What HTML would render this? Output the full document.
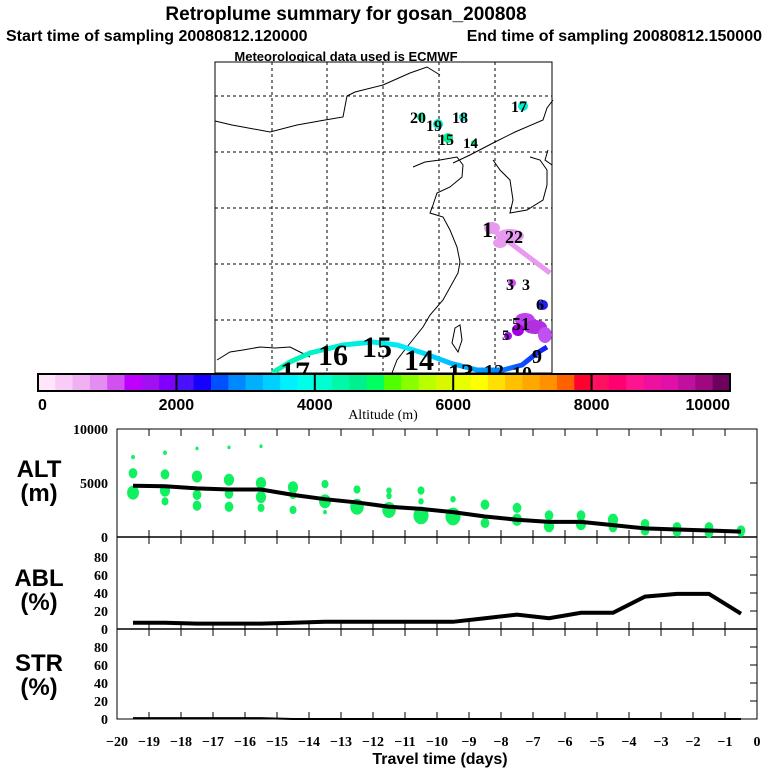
<!DOCTYPE html>
<html><head><meta charset="utf-8"><style>
html,body{margin:0;padding:0;background:#fff;}
svg{display:block;}
.t{font-family:"Liberation Sans",sans-serif;font-weight:bold;fill:#000;}
.s{font-family:"Liberation Serif",serif;fill:#000;}
.sb{font-family:"Liberation Serif",serif;font-weight:bold;fill:#000;}
</style></head><body>
<svg id="fig" width="768" height="768" viewBox="0 0 768 768" xmlns="http://www.w3.org/2000/svg">
<rect width="768" height="768" fill="#fff"/>
<text class="t" x="346" y="20" font-size="19" text-anchor="middle">Retroplume summary for gosan_200808</text>
<text class="t" x="6" y="41" font-size="16">Start time of sampling 20080812.120000</text>
<text class="t" x="762" y="41" font-size="16" text-anchor="end">End time of sampling 20080812.150000</text>
<text class="t" x="346" y="61" font-size="13" text-anchor="middle">Meteorological data used is ECMWF</text>

<g id="map">
<rect x="215" y="62" width="337" height="311" fill="#fff" stroke="#000"/>
<g stroke="#000" stroke-dasharray="3,3" stroke-width="1">
<line x1="272" y1="62" x2="272" y2="373"/><line x1="327" y1="62" x2="327" y2="373"/><line x1="383" y1="62" x2="383" y2="373"/><line x1="439" y1="62" x2="439" y2="373"/><line x1="495" y1="62" x2="495" y2="373"/>
<line x1="215" y1="96" x2="552" y2="96"/><line x1="215" y1="152" x2="552" y2="152"/><line x1="215" y1="208" x2="552" y2="208"/><line x1="215" y1="264" x2="552" y2="264"/><line x1="215" y1="320" x2="552" y2="320"/>
</g>
<g fill="none" stroke="#000" stroke-width="1">
<path d="M215,121 L232,125 L270,132 L297,125 L325,120 L343,117 L347,96 L355,92 L383,85 L410,73 L427,67 L440,75"/>
<path d="M413,167 L425,162 L440,160 L457,157 L463,165 L462,177 L450,187 L437,193 L433,205 L430,213 L443,217 L450,230 L457,247 L460,262 L458,273 L443,300 L430,315 L423,327 L407,347 L397,360 L392,373"/>
<path d="M453,163 L470,155 L493,143 L515,132 L543,120 L547,108 L553,100"/>
<path d="M493,160 L500,170 L510,180 L513,200 L510,213 L527,210 L543,200 L547,185 L547,170 L540,160 L530,157"/>
<path d="M455,328 L460,325 L462,340 L458,352 L452,343 Z"/>
<path d="M217,360 L230,352 L243,350 L260,347 L275,348 L290,347 L300,352 L310,357"/>
<path d="M548,150 L545,160 L552,165"/>
</g>
<defs><linearGradient id="trg" x1="272" y1="0" x2="547" y2="0" gradientUnits="userSpaceOnUse">
<stop offset="0" stop-color="#00f8b0"/><stop offset="0.5" stop-color="#00e8ff"/><stop offset="0.8" stop-color="#0090ff"/><stop offset="1" stop-color="#1818ff"/></linearGradient></defs>
<path d="M272,373 L290,362 L310,353 L343,345 L373,342 L397,345 L423,353 L450,363 L477,370 L503,370 L522,365 L537,353 L547,347" fill="none" stroke="url(#trg)" stroke-width="5"/>
<path d="M493,230 L550,273" stroke="#e89af0" stroke-width="5"/>
<g fill="#e89af0">
<ellipse cx="492" cy="228" rx="8" ry="6"/><ellipse cx="510" cy="236" rx="14" ry="7"/><ellipse cx="500" cy="243" rx="7" ry="5"/>
</g>
<g>
<circle cx="512" cy="283" r="4" fill="#d050f0"/><circle cx="543" cy="305" r="5" fill="#2020f0"/>
<ellipse cx="525" cy="320" rx="10" ry="7" fill="#c040f0"/><ellipse cx="535" cy="327" rx="12" ry="7" fill="#b030e0"/><circle cx="518" cy="330" r="6" fill="#a000e0"/><circle cx="508" cy="336" r="4" fill="#a010f0"/><ellipse cx="545" cy="335" rx="7" ry="8" fill="#c050f0"/>
</g>
<g>
<circle cx="421" cy="117" r="4" fill="#00f0a0"/><circle cx="438" cy="124" r="5" fill="#00f0c8"/><circle cx="463" cy="117" r="4" fill="#00f0d8"/><circle cx="523" cy="106" r="5" fill="#00f0d0"/><circle cx="448" cy="138" r="5" fill="#00f090"/><circle cx="474" cy="143" r="3" fill="#00e860"/>
</g>
<g class="sb">
<text x="410" y="123" font-size="16">20</text><text x="426" y="131" font-size="16">19</text><text x="452" y="123" font-size="16">18</text><text x="511" y="112" font-size="16">17</text><text x="438" y="145" font-size="16">15</text><text x="463" y="148" font-size="15">14</text>
<text x="482" y="237" font-size="22">1</text><text x="505" y="243" font-size="18">22</text>
<text x="506" y="290" font-size="16">3</text><text x="522" y="290" font-size="16">3</text><text x="536" y="310" font-size="16">6</text><text x="502" y="340" font-size="15">5</text><text x="512" y="330" font-size="18">51</text>
<text x="280" y="382" font-size="30">17</text><text x="318" y="365" font-size="30">16</text><text x="362" y="357" font-size="30">15</text><text x="404" y="370" font-size="30">14</text><text x="448" y="382" font-size="26">13</text><text x="484" y="378" font-size="20">12</text><text x="512" y="380" font-size="20">10</text><text x="532" y="363" font-size="20">9</text>
</g>
</g>

<g id="colorbar"></g>
<text class="s" x="383" y="419" font-size="14" text-anchor="middle">Altitude (m)</text>

<g id="panels"></g>
</svg>
<script>
const cbColors = ["#ffe6f8","#f8ccf6","#f0b0f4","#e48cf0","#d050f0","#c000ff","#a010f0","#8000ff",
"#4a10ff","#1800ff","#0050ff","#0088ff","#00b0ff","#00d0ff","#00f0ff","#00ffe8",
"#00ffd0","#00f8a8","#00f090","#00ff60","#50ff00","#88ff00","#b8ff00","#d8f800",
"#e8ff00","#ffff00","#ffe000","#ffc000","#ffa800","#ff9000","#ff6000","#ff0030",
"#ff1060","#ff0070","#ff1490","#f010a0","#e010a8","#c010a0","#a00880","#700060"];
const cbTicks = [0,2000,4000,6000,8000,10000];

const days = [-19.5,-18.5,-17.5,-16.5,-15.5,-14.5,-13.5,-12.5,-11.5,-10.5,-9.5,-8.5,-7.5,-6.5,-5.5,-4.5,-3.5,-2.5,-1.5,-0.5];
const altMean = [4750,4700,4500,4400,4400,3900,3500,3200,2800,2600,2300,1900,1600,1400,1400,1100,800,700,600,500];
const ablPct = [7,7,6,6,6,7,8,8,8,8,8,12,16,12,18,18,36,39,39,17];
const strPct = [1,1,1,1,1,0,0,0,0,0,0,0,0,0,0,0,0,0,0,0];
const dotDay = [-19.5,-19.5,-19.5,-18.5,-18.5,-18.5,-18.5,-17.5,-17.5,-17.5,-17.5,-16.5,-16.5,-16.5,-16.5,-15.5,-15.5,-15.5,-15.5,-14.5,-14.5,-14.5,-13.5,-13.5,-13.5,-12.5,-12.5,-11.5,-11.5,-11.5,-10.5,-10.5,-10.5,-9.5,-9.5,-8.5,-8.5,-7.5,-7.5,-6.5,-6.5,-5.5,-5.5,-4.5,-4.5,-3.5,-3.5,-2.5,-2.5,-1.5,-1.5,-0.5,-0.5];
const dotAlt = [7400,5900,4100,7800,5800,4300,3300,8200,5600,3900,2900,8300,5300,4000,2800,8400,5000,3700,2700,4600,3900,2500,4900,3300,2300,4400,2800,4300,3800,2500,4300,3300,2000,3500,1900,3000,1300,2700,1600,2000,1000,2000,1200,1600,900,1200,600,900,500,900,400,600,400];
const dotMass = [1,4,6,1,4,5,3,0.6,5,4,4,0.6,5,4,4,0.6,5,5,3,5,3,3,3,6,1,3,7,2,2,7,3,2,8,2,8,4,4,4,5,4,5,4,5,5,4,4,4,4,4,4,4,4,3];
const xTicks = [-20,-19,-18,-17,-16,-15,-14,-13,-12,-11,-10,-9,-8,-7,-6,-5,-4,-3,-2,-1,0];
const altTicks = [0,5000,10000];
const pctTicks = [0,20,40,60,80];

const NS='http://www.w3.org/2000/svg';
function mk(tag, attrs, parent){const e=document.createElementNS(NS,tag);for(const k in attrs)e.setAttribute(k,attrs[k]);parent.appendChild(e);return e;}

const cb=document.getElementById('colorbar');
const cbX=v=>38+(v/10000)*692;
cbColors.forEach((c,i)=>{
  const r=mk('rect',{x:cbX(i*250),y:374,width:692/40+0.5,height:17,fill:c},cb);
  
  
});
const cbFrame=mk('rect',{x:38,y:374,width:692,height:17,fill:'none',stroke:'#000','stroke-width':2},cb);


cbTicks.forEach(v=>{
  if(v>0&&v<10000){const l=mk('line',{x1:cbX(v),y1:374,x2:cbX(v),y2:391,stroke:'#000','stroke-width':2},cb);
  
  }
  const t=mk('text',{x:cbX(v),y:410,'font-size':16,'text-anchor':v===0?'start':(v===10000?'end':'middle'),class:'t'},cb);
  t.textContent=v;
  
  
});

const P=document.getElementById('panels');
const X0=117, X1=757;
const xs=d=>X0+(d+20)/20*(X1-X0);
const altY=v=>537-v/10000*108;
const ablY=v=>629-v/100*90;
const strY=v=>719-v/100*90;

function frame(top,bot,name){
  const r=mk('rect',{x:X0,y:top,width:X1-X0,height:bot-top,fill:'none',stroke:'#000','stroke-width':1},P);
  
  
  xTicks.forEach(d=>{
    if(d===-20||d===0)return;
    const a=mk('line',{x1:xs(d),y1:top,x2:xs(d),y2:top+7,stroke:'#000'},P);
    
    
    const b=mk('line',{x1:xs(d),y1:bot,x2:xs(d),y2:bot-7,stroke:'#000'},P);
    
    
  });
}
frame(429,537,'alt-panel');
frame(537,629,'abl-panel');
frame(629,719,'str-panel');
mk('line',{x1:X0,y1:537,x2:X1,y2:537,stroke:'#000','stroke-width':1.5},P);
mk('line',{x1:X0,y1:629,x2:X1,y2:629,stroke:'#000','stroke-width':1.5},P);

function yLabels(ticks,fy,name){
  ticks.forEach(v=>{
    const t=mk('text',{x:108,y:fy(v)+5,'font-size':14,'text-anchor':'end',class:'sb'},P);
    t.textContent=v;
    
    
    const l=mk('line',{x1:X1,y1:fy(v),x2:X1-7,y2:fy(v),stroke:'#000'},P);
    
    
  });
}
yLabels(altTicks,altY,'alt-y-tick-label');
yLabels(pctTicks,ablY,'abl-y-tick-label');
yLabels(pctTicks,strY,'str-y-tick-label');

function bigLabel(txt,y,name){
  const t=mk('text',{x:39,y:y,'font-size':24,'text-anchor':'middle',class:'t'},P);
  t.textContent=txt;
  
  
}
bigLabel('ALT',477,'alt-label');bigLabel('(m)',501,'alt-unit');
bigLabel('ABL',586,'abl-label');bigLabel('(%)',610,'abl-unit');
bigLabel('STR',671,'str-label');bigLabel('(%)',695,'str-unit');

dotDay.forEach((d,i)=>{
  const r=1.3+dotMass[i]*0.95;
  const c=mk('ellipse',{cx:xs(d),cy:altY(dotAlt[i]),rx:r*0.85,ry:r,fill:'#10f060'},P);
  
  
});
function line(vals,fy,name,w){
  const pts=days.map((d,i)=>xs(d)+','+fy(vals[i])).join(' ');
  const p=mk('polyline',{points:pts,fill:'none',stroke:'#000','stroke-width':w},P);
  
  
}
line(altMean,altY,'alt-mean-line',4);
line(ablPct,ablY,'abl-line',4);
line(strPct,strY,'str-line',2);

xTicks.forEach(d=>{
  const t=mk('text',{x:xs(d),y:746,'font-size':14,'text-anchor':'middle',class:'sb'},P);
  t.textContent=d===0?'0':'\u2212'+(-d);
  
  
});
const xt=mk('text',{x:440,y:764,'font-size':16,'text-anchor':'middle',class:'t'},P);
xt.textContent='Travel time (days)';


</script>
</body></html>
